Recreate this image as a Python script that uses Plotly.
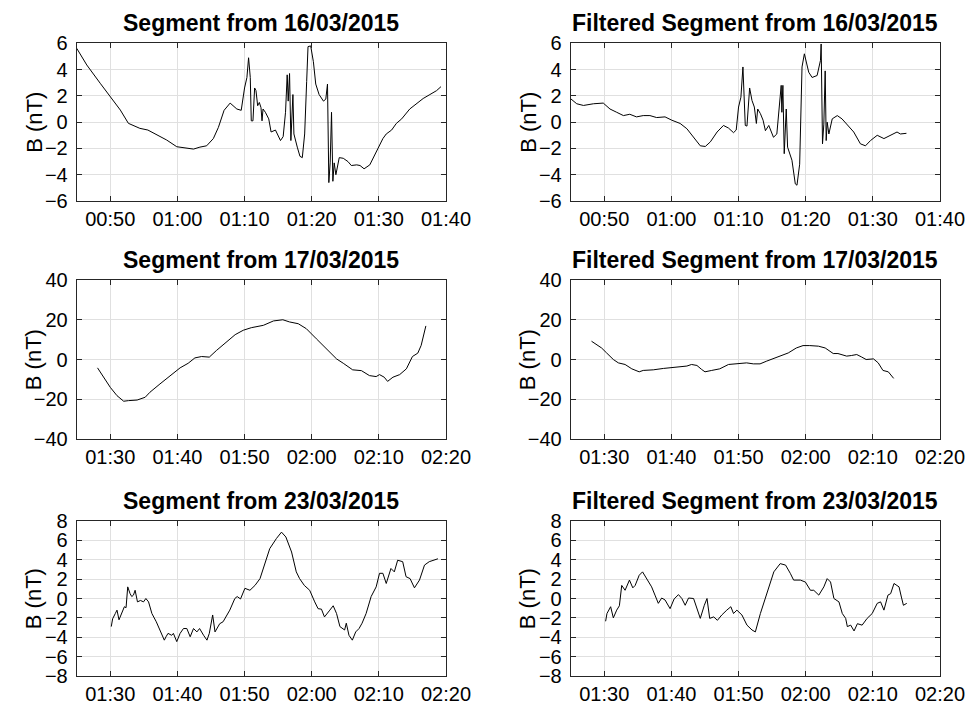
import pandas as pd
import plotly.graph_objects as go

# ---------------- data (time in minutes after midnight, B in nT) ----------------
days = ["2015-03-16", "2015-03-17", "2015-03-23"]
titles = ["Segment from 16/03/2015", "Filtered Segment from 16/03/2015",
          "Segment from 17/03/2015", "Filtered Segment from 17/03/2015",
          "Segment from 23/03/2015", "Filtered Segment from 23/03/2015"]
y_label = "B (nT)"
x_ranges_min = [(45, 100), (85, 140), (85, 140)]
y_ranges = [(-6, 6), (-40, 40), (-8, 8)]
y_dticks = [2, 20, 2]

t_seg16 = [45, 46.5, 48.5, 50, 51.5, 52.7, 54.4, 55.6, 56.9, 58.4, 59.9, 61.3, 62.4, 63.35,
           64.35, 65.35, 66.1, 66.95, 67.85, 68.85, 69.5, 70.0, 70.35, 70.6, 70.85, 71.0,
           71.25, 71.5, 71.7, 71.95, 72.2, 72.45, 72.6, 72.75, 73.1, 73.6, 73.95, 74.6,
           75.35, 75.75, 76.1, 76.35, 76.5, 76.7, 76.9, 77.2, 77.35, 77.85, 78.25, 78.6,
           78.95, 79.25, 79.45, 79.85, 80.25, 80.6, 81.1, 81.75, 82.1, 82.35, 82.55, 82.75,
           82.95, 83.15, 83.35, 83.6, 84.1, 84.7, 85.4, 85.9, 86.7, 87.2, 87.8, 88.65,
           89.4, 90.0, 90.6, 91.1, 91.9, 92.6, 93.4, 94.6, 95.6, 96.6, 97.6, 98.6, 99.25]
b_seg16 = [5.62, 4.35, 2.96, 1.94, 0.92, -0.09, -0.47, -0.6, -0.98, -1.36, -1.87, -1.95,
           -2.05, -1.9, -1.8, -1.25, -0.4, 0.9, 1.45, 1.0, 0.9, 2.6, 3.4, 4.9, 3.4, 0.1,
           0.1, 2.6, 2.4, 1.25, 1.5, 1.1, 0.1, 1.0, 0.75, 0.25, -0.75, -0.6, -1.4, -1.1,
           0.75, 3.6, 1.6, 3.7, -1.4, 2.1, -0.9, -1.9, -2.6, -2.7, -0.9, 3.1, 5.75, 5.8,
           4.6, 2.9, 2.1, 1.6, 1.75, 2.9, -4.6, -3.1, 0.75, -4.5, -3.1, -4.0, -2.7, -2.75,
           -3.0, -3.3, -3.25, -3.3, -3.55, -3.25, -2.5, -1.9, -1.25, -0.9, -0.6, -0.1,
           0.25, 1.0, 1.4, 1.8, 2.1, 2.4, 2.7]

t_filt16 = [45, 45.9, 46.9, 48.4, 49.85, 50.85, 51.85, 52.85, 53.8, 54.8, 55.8, 56.8, 57.8,
            59.05, 60.05, 61.3, 62.3, 63.3, 64.3, 65.05, 65.8, 66.8, 67.75, 68.5, 69.25,
            69.65, 70.0, 70.35, 70.65, 71.0, 71.25, 71.65, 72.0, 72.35, 72.65, 72.85, 73.25,
            73.65, 74.0, 74.5, 75.2, 75.7, 76.2, 76.35, 76.45, 76.6, 76.8, 77.1, 77.3,
            77.95, 78.45, 78.7, 79.1, 79.45, 79.8, 80.45, 80.95, 81.7, 82.2, 82.3, 82.5,
            82.7, 82.9, 83.05, 83.2, 83.45, 83.95, 84.7, 85.4, 86.15, 87.15, 88.15, 88.9,
            89.65, 90.65, 91.65, 92.65, 93.6, 94.1, 95.0]
b_filt16 = [1.78, 1.4, 1.27, 1.4, 1.45, 1.0, 0.75, 0.5, 0.6, 0.4, 0.5, 0.5, 0.35, 0.4,
            0.15, -0.1, -0.5, -1.15, -1.8, -1.85, -1.5, -0.75, -0.25, -0.45, -0.8, -0.6,
            1.15, 1.9, 4.2, -0.25, -0.3, 2.6, 1.65, 1.15, -0.1, 1.0, 0.65, 0.15, -0.65,
            -0.25, -1.15, -0.9, 2.0, 2.8, 0.75, 2.8, -2.4, 1.0, -1.9, -2.9, -4.7, -4.8,
            -3.2, 4.2, 5.2, 3.8, 3.4, 3.55, 4.7, 5.95, -1.65, -0.15, 3.9, -1.4, 0.0, -0.9,
            0.25, 0.5, 0.25, -0.15, -0.75, -1.65, -1.8, -1.4, -1.0, -1.25, -1.0, -0.75,
            -0.9, -0.85]

t_seg17 = [88.1, 89.0, 90.0, 91.0, 92.0, 92.7, 94.0, 95.2, 95.9, 97.4, 98.9, 100.4, 101.6,
           102.6, 103.6, 104.75, 105.8, 107.3, 108.6, 109.8, 111.0, 112.8, 114.3, 115.7,
           116.7, 118.0, 119.2, 120.7, 122.2, 123.7, 124.7, 126.1, 127.4, 128.6, 129.6,
           130.1, 130.8, 131.3, 132.1, 133.1, 134.1, 135.0, 135.8, 136.3, 137.0]
b_seg17 = [-4.2, -8.9, -14, -18.2, -21, -20.7, -20.4, -19, -16.5, -12.3, -8.1, -4.2, -1.9,
           0.8, 1.5, 1.2, 4.5, 8.8, 12.5, 14.7, 16, 17.2, 19.4, 20, 18.9, 18, 15.5, 10.4,
           5.4, 0.3, -1.9, -5.2, -5.6, -8.1, -8.6, -7.6, -8.9, -11, -8.9, -7.6, -4.7, 1.5,
           3.2, 7.1, 16.9]

t_filt17 = [88.1, 89.6, 90.35, 91.35, 92.1, 93.1, 94.1, 95.2, 95.8, 97.3, 98.8, 99.8, 101.3,
            102.3, 103.0, 103.8, 104.5, 105.0, 106.0, 107.2, 108.5, 109.7, 111.2, 112.2,
            113.2, 114.2, 115.2, 116.2, 117.4, 118.6, 119.6, 120.6, 121.9, 122.9, 124.1,
            124.8, 126.1, 126.8, 127.6, 128.3, 129.0, 130.1, 130.8, 131.5, 132.3, 133.1]
b_filt17 = [9.2, 5.8, 3.3, 0.0, -1.7, -2.5, -4.7, -6.2, -5.5, -5.2, -4.5, -4.2, -3.5, -3.3,
            -2.5, -3.0, -5.0, -6.2, -5.5, -4.7, -2.5, -2.0, -1.7, -2.2, -2.2, -0.8, 0.5, 2.0,
            3.3, 5.8, 7.0, 7.0, 6.7, 5.8, 3.0, 3.0, 1.7, 2.0, 2.5, 1.3, 0.0, 0.3, -1.7,
            -5.5, -6.2, -9.5]

t_seg23 = [90.15, 90.35, 90.75, 91.0, 91.3, 91.7, 92.1, 92.35, 92.6, 92.95, 93.2, 93.45, 93.7,
           94.05, 94.5, 94.95, 95.3, 95.7, 96.2, 96.85, 97.4, 98.05, 98.3, 98.6, 99.15,
           99.4, 99.9, 100.4, 100.9, 101.4, 101.9, 102.4, 102.9, 103.3, 103.9, 104.4,
           104.75, 105.25, 105.6, 106.3, 106.8, 107.8, 108.55, 108.9, 109.4, 110.05, 110.8,
           111.55, 112.3, 112.8, 113.75, 114.75, 115.5, 116.15, 117.0, 117.7, 118.2, 118.9,
           119.7, 120.45, 120.95, 121.45, 121.9, 122.7, 123.2, 123.7, 124.2, 124.9, 125.15,
           125.55, 126.05, 126.55, 127.05, 127.5, 128.1, 128.85, 129.6, 130.1, 130.6,
           131.1, 131.8, 132.3, 132.8, 133.55, 134.05, 134.65, 135.3, 136.05, 136.8, 137.5,
           138.3, 138.8]
b_seg23 = [-2.9, -2.1, -1.55, -1.2, -2.2, -1.55, -0.85, -0.95, 1.2, 0.5, 0.2, 0.35, 0.85,
           -0.35, -0.2, -0.35, 0.0, -0.35, -1.55, -2.4, -3.25, -4.3, -3.95, -3.6, -3.8,
           -3.6, -4.45, -3.6, -3.1, -3.1, -3.95, -3.1, -3.45, -3.1, -3.8, -4.3, -3.6, -1.7,
           -3.45, -2.6, -2.4, -1.2, 0.0, 0.2, -0.05, 1.05, 0.85, 1.35, 2.05, 3.1, 5.15, 6.2,
           6.85, 6.35, 4.8, 2.75, 2.05, 1.35, 0.85, -0.35, -1.05, -1.1, -1.9, -1.2, -0.75,
           -1.55, -2.9, -3.25, -2.55, -3.8, -4.3, -3.45, -3.1, -2.55, -1.55, 0.2, 1.2, 2.6,
           2.6, 1.55, 3.1, 2.75, 3.95, 3.8, 2.25, 2.05, 1.1, 1.9, 3.45, 3.8, 3.95, 4.1]

t_filt23 = [90.2, 90.4, 90.95, 91.35, 91.85, 92.25, 92.6, 93.1, 93.75, 94.25, 94.6, 95.2,
            95.7, 96.3, 97.05, 97.55, 98.05, 98.55, 99.05, 99.8, 100.4, 101.05, 101.55,
            102.05, 102.55, 103.3, 103.8, 104.3, 104.9, 105.3, 105.7, 106.3, 106.85, 107.5,
            108.25, 108.85, 109.25, 109.75, 110.5, 111.25, 112.0, 112.5, 113.25, 114.25,
            115.25, 116.2, 117.0, 117.7, 118.2, 119.2, 119.95, 120.7, 121.2, 121.95, 122.7,
            123.2, 123.7, 124.2, 124.95, 125.45, 125.95, 126.2, 126.7, 127.2, 127.7, 128.4,
            129.15, 129.9, 130.65, 131.15, 131.65, 132.25, 132.65, 133.15, 133.9, 134.25,
            134.55, 135.05]
b_filt23 = [-2.35, -1.55, -0.85, -2.0, -1.2, -0.75, 1.35, 0.85, 1.9, 1.1, 1.35, 2.4, 2.75,
            2.05, 1.2, 0.35, -0.5, 0.05, -0.15, -1.05, -0.05, 0.4, 0.0, -0.7, 0.05, 0.0,
            -1.05, -2.05, -0.7, 0.0, -2.05, -1.9, -2.25, -1.7, -1.2, -0.85, -1.55, -1.2,
            -1.7, -2.75, -3.25, -3.45, -1.55, 0.7, 2.75, 3.6, 3.45, 2.6, 1.9, 1.9, 1.7, 0.85,
            0.85, 0.35, 1.2, 2.05, 1.7, 0.0, -0.35, -1.55, -2.05, -2.9, -2.75, -3.35, -2.6,
            -2.75, -2.05, -1.55, -0.5, -0.35, -1.2, 0.35, 0.5, 1.55, 1.2, 0.15, -0.7, -0.5]

series_t = [t_seg16, t_filt16, t_seg17, t_filt17, t_seg23, t_filt23]
series_b = [b_seg16, b_filt16, b_seg17, b_filt17, b_seg23, b_filt23]

# ---------------- figure ----------------
W, H = 967, 709
FONT = "Liberation Sans, Arial, Helvetica, sans-serif"
x_dom = [(76.7 / W, 446.0 / W), (570.7 / W, 940.0 / W)]
y_dom = [(1 - 201.0 / H, 1 - 43.3 / H), (1 - 439.0 / H, 1 - 280.0 / H), (1 - 676.0 / H, 1 - 521.0 / H)]


def stamp(day, mins):
    base = pd.Timestamp(day)
    return [base + pd.Timedelta(minutes=float(m)) for m in mins]


fig = go.Figure()
layout = dict(width=W, height=H, margin=dict(l=0, r=0, t=0, b=0, autoexpand=False),
              paper_bgcolor="white", plot_bgcolor="white", showlegend=False,
              font=dict(family=FONT, color="#000000"))
annotations = []

for i in range(6):
    row, col = divmod(i, 2)
    day = days[row]
    tt, bb = series_t[i], series_b[i]
    assert len(tt) == len(bb), (i, len(tt), len(bb))
    k = "" if i == 0 else str(i + 1)
    fig.add_trace(go.Scatter(x=stamp(day, tt), y=bb, mode="lines",
                             line=dict(color="black", width=1),
                             xaxis="x" + k, yaxis="y" + k, hoverinfo="skip"))
    x0, x1 = stamp(day, x_ranges_min[row])
    common = dict(showline=True, linecolor="#262626", linewidth=1, mirror="ticks",
                  ticks="inside", ticklen=5, tickwidth=1, tickcolor="#262626",
                  showgrid=True, gridcolor="#e0e0e0", gridwidth=1, zeroline=False,
                  automargin=False,
                  tickfont=dict(family=FONT, size=20, color="#000000"))
    layout["xaxis" + k] = dict(common, domain=x_dom[col], anchor="y" + k, type="date",
                               range=[x0, x1], tick0=pd.Timestamp(day), dtick=600000,
                               tickformat="%H:%M", ticklabelstandoff=0)
    lo, hi = y_ranges[row]
    layout["yaxis" + k] = dict(common, domain=y_dom[row], anchor="x" + k,
                               range=[lo, hi], tick0=lo, dtick=y_dticks[row],
                               ticklabelstandoff=4)
    xc = (x_dom[col][0] + x_dom[col][1]) / 2
    annotations.append(dict(text="<b>" + titles[i] + "</b>", x=xc, y=y_dom[row][1],
                            xref="paper", yref="paper", xanchor="center", yanchor="bottom",
                            yshift=5, showarrow=False,
                            font=dict(family=FONT, size=23, color="#000000")))
    annotations.append(dict(text=y_label, x=x_dom[col][0], xshift=-43,
                            y=(y_dom[row][0] + y_dom[row][1]) / 2,
                            xref="paper", yref="paper", xanchor="center", yanchor="middle",
                            textangle=-90, showarrow=False,
                            font=dict(family=FONT, size=22, color="#000000")))

layout["annotations"] = annotations
fig.update_layout(**layout)
fig.write_html("out.html", config={"displayModeBar": False},
               post_script="document.body.style.margin='0';")
